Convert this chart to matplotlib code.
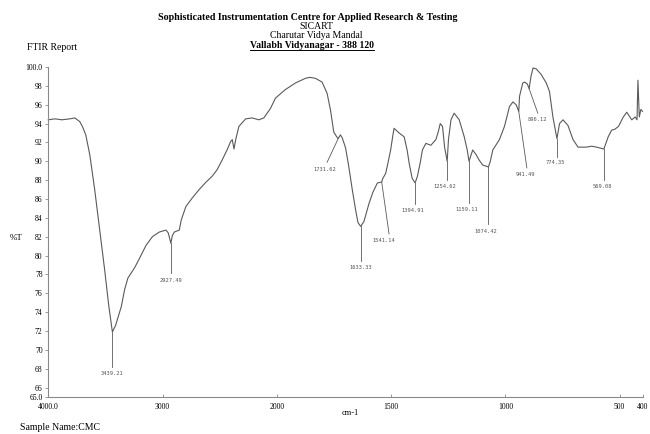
import numpy as np
import matplotlib
matplotlib.use("Agg")
import matplotlib.pyplot as plt

# ---- spectrum (wavenumber cm-1, %T) ----
wavenumber = [4000, 3942, 3881, 3811, 3768, 3724, 3698, 3672, 3637, 3594, 3550, 3507, 3472,
              3439.21, 3411, 3361, 3332, 3304, 3245, 3202, 3144, 3089, 3028, 2970, 2950,
              2927.49, 2915, 2897, 2854, 2836, 2796, 2741, 2680, 2619, 2567, 2523, 2480, 2436,
              2404, 2390, 2375, 2360, 2332, 2273, 2216, 2157, 2114, 2056, 2012,
              1963, 1919, 1875, 1856, 1831, 1802, 1780, 1765, 1751, 1738, 1731.62, 1722, 1714,
              1699, 1685, 1670, 1655, 1645, 1633.33, 1619, 1597, 1580, 1560, 1541.14, 1536,
              1524, 1514, 1502, 1492, 1487, 1465, 1443, 1430, 1421, 1408, 1394.91, 1385, 1373,
              1363, 1348, 1326, 1304, 1294, 1285, 1275, 1266, 1254.62, 1249, 1238, 1224, 1202,
              1180, 1167, 1159.11, 1143, 1128, 1114, 1099, 1074.42, 1067, 1055, 1026, 1004,
              982, 967, 953, 941.49, 938, 924, 916, 904, 896.12, 888, 879, 865, 843, 821, 807,
              792, 774.35, 763, 748, 726, 704, 682, 646, 622, 601, 569.08, 550, 535, 521, 505,
              484, 469, 447, 432, 424, 420, 414, 407, 400]
transmittance = [94.4, 94.5, 94.4, 94.5, 94.6, 94.2, 93.6, 92.8, 90.7, 87.0, 82.7, 78.5, 74.8,
                 71.9, 72.6, 74.6, 76.4, 77.6, 78.7, 79.7, 81.1, 82.0, 82.5, 82.7, 82.4,
                 81.3, 82.1, 82.5, 82.7, 83.8, 85.2, 86.1, 87.0, 87.8, 88.4, 89.1, 90.1, 91.2,
                 92.1, 92.3, 91.3, 92.3, 93.7, 94.5, 94.6, 94.4, 94.6, 95.6, 96.7,
                 97.6, 98.3, 98.8, 98.9, 98.8, 98.4, 97.2, 95.4, 93.1, 92.6, 92.4, 92.8, 92.5,
                 91.4, 89.4, 87.0, 84.8, 83.5, 83.1, 83.6, 85.5, 86.7, 87.7, 87.8, 88.2,
                 88.7, 89.8, 91.2, 92.8, 93.5, 93.0, 92.6, 91.2, 89.8, 88.2, 87.7, 88.4, 89.8,
                 91.2, 91.9, 91.7, 92.3, 93.1, 94.0, 93.7, 91.5, 90.0, 92.3, 94.4, 95.1, 94.4,
                 92.6, 91.2, 90.0, 91.2, 90.7, 90.1, 89.6, 89.4, 89.9, 91.2, 92.3, 93.7,
                 95.8, 96.3, 96.0, 95.3, 96.9, 98.3, 98.4, 98.2, 97.7, 99.0, 99.9, 99.8, 99.2, 98.3, 97.4,
                 94.7, 92.4, 94.0, 94.4, 93.8, 92.3, 91.5, 91.5, 91.6, 91.5, 91.3, 92.6, 93.3, 93.4, 93.7,
                 94.7, 95.2, 94.4, 94.7, 94.4, 98.6, 94.7, 95.5, 95.3]

# ---- labelled peaks ----
peak_labels = ["3439.21", "2927.49", "1731.62", "1633.33", "1541.14", "1394.91", "1254.62",
               "1159.11", "1074.42", "941.49", "896.12", "774.35", "569.08"]
peak_wn = [3439.21, 2927.49, 1731.62, 1633.33, 1541.14, 1394.91, 1254.62,
           1159.11, 1074.42, 941.49, 896.12, 774.35, 569.08]
peak_T = [71.9, 81.3, 92.4, 83.1, 87.8, 87.7, 90.0, 90.0, 89.4, 95.3, 97.7, 92.4, 91.3]

# label placement (layout)
label_pos = [(3439, 67.5), (2927, 77.4), (1791, 89.1), (1633, 78.7), (1533, 81.6),
             (1407, 84.8), (1267, 87.3), (1169, 84.9), (1087, 82.6), (912, 88.6),
             (861, 94.4), (780, 89.85), (574, 87.3)]
leader_end = [(3439.21, 68.2), (2927.49, 78.1), (1780, 89.9), (1633.33, 79.4), (1509, 82.3),
              (1394.91, 85.5), (1254.62, 88.0), (1159.11, 85.6), (1074.42, 83.3), (906, 89.3),
              (858, 95.1), (774.35, 90.5), (569.08, 88.0)]

x_ticks = [4000, 3000, 2000, 1500, 1000, 500, 400]
x_ticklabels = ["4000.0", "3000", "2000", "1500", "1000", "500", "400"]
y_ticks = [65, 66, 68, 70, 72, 74, 76, 78, 80, 82, 84, 86, 88, 90, 92, 94, 96, 98, 100]
y_ticklabels = ["65.0"] + [str(v) for v in y_ticks[1:-1]] + ["100.0"]


# FTIR chart axis: 4000-2000 cm-1 drawn at half the scale of 2000-400 cm-1
def fwd(x):
    x = np.asarray(x, dtype=float)
    return np.where(x >= 2000, -(4000 - x) / 2.0, -(1000 + (2000 - x)))


def inv(v):
    u = -np.asarray(v, dtype=float)
    return np.where(u <= 1000, 4000 - 2.0 * u, 2000 - (u - 1000))


serif = ["Liberation Serif", "DejaVu Serif"]
mono = ["DejaVu Sans Mono"]
W, H = 650, 434
fig = plt.figure(figsize=(6.5, 4.34), dpi=100)
ax = fig.add_axes([48.3 / W, 1 - 397 / H, (642.5 - 48.3) / W, (397 - 67) / H])
ax.set_xscale("function", functions=(fwd, inv))
ax.set_xlim(4000, 400)
ax.set_ylim(65, 100)

line_c = "#5a5a5a"
ax.plot(wavenumber, transmittance, color=line_c, lw=0.8, clip_on=False)

for lab, wn, t, (lx, ly), (ex, ey) in zip(peak_labels, peak_wn, peak_T, label_pos, leader_end):
    ax.plot([wn, ex], [t, ey], color=line_c, lw=0.6)
    ax.text(lx, ly, lab, fontsize=3.9, family=mono, color="#555555",
            ha="center", va="center")

for s in ["top", "right"]:
    ax.spines[s].set_visible(False)
for s in ["left", "bottom"]:
    ax.spines[s].set_color("#8a8a8a")
    ax.spines[s].set_linewidth(0.8)

ax.set_xticks(x_ticks)
ax.set_xticklabels(x_ticklabels, family=serif, fontsize=5.5)
ax.set_yticks(y_ticks)
ax.set_yticklabels(y_ticklabels, family=serif, fontsize=5.5)
ax.tick_params(axis="both", length=2, width=0.6, color="#8a8a8a", pad=2)
ax.tick_params(axis="x", direction="in", pad=4)
ax.minorticks_off()

# ---- header / text ----
fig.text(308 / W, 1 - 17 / H, "Sophisticated Instrumentation Centre for Applied Research & Testing",
         family=serif, fontsize=7.2, fontweight="bold", ha="center", va="center")
fig.text(316 / W, 1 - 26.5 / H, "SICART", family=serif, fontsize=7, ha="center", va="center")
fig.text(316 / W, 1 - 36 / H, "Charutar Vidya Mandal", family=serif, fontsize=7,
         ha="center", va="center")
fig.text(312 / W, 1 - 45 / H, "Vallabh Vidyanagar - 388 120", family=serif, fontsize=7,
         fontweight="bold", ha="center", va="center")
fig.add_artist(plt.Line2D([250 / W, 374 / W], [1 - 49.5 / H, 1 - 49.5 / H],
                          color="black", lw=0.7))
fig.text(27 / W, 1 - 48 / H, "FTIR Report", family=serif, fontsize=7, ha="left", va="center")
fig.text(10 / W, 1 - 238 / H, "%T", family=serif, fontsize=6.5, ha="left", va="center")
fig.text(350 / W, 1 - 413 / H, "cm-1", family=serif, fontsize=6, ha="center", va="center")
fig.text(20 / W, 1 - 428 / H, "Sample Name:CMC", family=serif, fontsize=7, ha="left", va="center")

fig.savefig("out.png", dpi=100, facecolor="white")
